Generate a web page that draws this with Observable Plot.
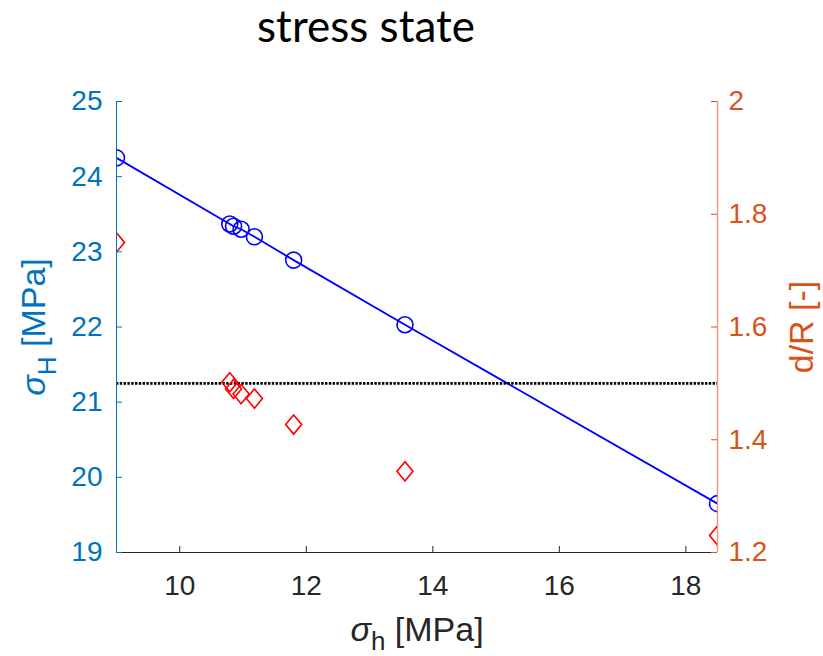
<!DOCTYPE html>
<html>
<head>
<meta charset="utf-8">
<script src="https://cdn.jsdelivr.net/npm/d3@7"></script>
<script src="https://cdn.jsdelivr.net/npm/@observablehq/plot@0.6"></script>
<style>
  html, body { margin: 0; padding: 0; background: #fff; }
  #wrap { position: relative; width: 823px; height: 656px; overflow: hidden; }
  #title { position: absolute; left: 0; top: 0; width: 732px; height: 56px; text-align: center;
           font-family: Lato, "Open Sans", sans-serif; font-size: 44px; line-height: 50px; color: #000; }
  #chart { position: absolute; left: 0; top: 56px; }
</style>
</head>
<body>
<div id="wrap">
  <div id="title">stress state</div>
  <div id="chart"></div>
</div>
<script>
// ---- data ----
const sigmaSmall = [9.0, 10.79, 10.85, 10.97, 11.18, 11.80, 13.56, 18.5];   // σh [MPa]
const sigmaLarge = [24.25, 23.37, 23.34, 23.30, 23.20, 22.89, 22.03, 19.65]; // σH [MPa]
const dOverR = [1.75, 1.502, 1.490, 1.481, 1.473, 1.427, 1.344, 1.23];      // d/R [-]
const dOverRLimit = [1.5];
const xTicks = [10, 12, 14, 16, 18];
const leftTicks = [19, 20, 21, 22, 23, 24, 25];
const rightTicks = [1.2, 1.4, 1.6, 1.8, 2];
const xDomain = [9, 18.5];
const leftDomain = [19, 25];
const rightDomain = [1.2, 2];

const BLUE_AX = "#0072BD", ORANGE_AX = "#D95319", GRAY_AX = "#262626";

// right axis values are mapped onto the left (primary) y scale
const toLeft = d3.scaleLinear().domain(rightDomain).range(leftDomain);

const pts = sigmaSmall.map((x, i) => ({x, yH: sigmaLarge[i], yR: toLeft(dOverR[i])}));

const diamond = {
  draw(context, size) {
    const r = Math.sqrt(size / Math.PI);
    const w = r, h = r * 1.2;
    context.moveTo(0, -h); context.lineTo(w, 0); context.lineTo(0, h); context.lineTo(-w, 0); context.closePath();
  }
};

const W = 823, H = 600;
const mL = 116, mR = 823 - 717, mT = 101 - 56, mB = 600 - (552 - 56);
const frameW = W - mL - mR, frameH = H - mT - mB;
const TICK = 6;
const fmt = d3.format("~g");

const chart = Plot.plot({
  width: W, height: H,
  marginLeft: mL, marginRight: mR, marginTop: mT, marginBottom: mB,
  style: {fontFamily: "'Liberation Sans', Arial, Helvetica, sans-serif", fontSize: "28px", background: "white"},
  x: {domain: xDomain},
  y: {domain: leftDomain},
  marks: [
    // data
    Plot.line(pts, {x: "x", y: "yH", stroke: "#0000FF", strokeWidth: 1.8, clip: true}),
    Plot.dot(pts, {x: "x", y: "yH", r: 8, stroke: "#0000FF", strokeWidth: 1.6, fill: "none", clip: true}),
    Plot.ruleY(dOverRLimit, {y: d => toLeft(d), stroke: "#000", strokeWidth: 2.8, strokeDasharray: "2.4,1.4"}),
    Plot.dot(pts, {x: "x", y: "yR", r: 8, symbol: diamond, stroke: "#FF0000", strokeWidth: 1.6, fill: "none", clip: true}),
    // axis lines
    Plot.ruleY([leftDomain[0]], {stroke: GRAY_AX, strokeWidth: 1}),
    Plot.ruleX([xDomain[0]], {stroke: BLUE_AX, strokeWidth: 1}),
    Plot.ruleX([xDomain[1]], {stroke: ORANGE_AX, strokeOpacity: 0.6, strokeWidth: 1.4}),
    // inward ticks
    Plot.tickX(xTicks, {x: d => d, stroke: GRAY_AX, insetTop: frameH - TICK}),
    Plot.tickY(leftTicks, {y: d => d, stroke: BLUE_AX, insetRight: frameW - TICK}),
    Plot.tickY(rightTicks, {y: d => toLeft(d), stroke: ORANGE_AX, insetLeft: frameW - TICK}),
    // tick labels
    Plot.axisX(xTicks, {anchor: "bottom", tickSize: 0, tickPadding: 23, fill: GRAY_AX, fontSize: 28, label: null, tickFormat: fmt}),
    Plot.axisY(leftTicks, {anchor: "left", tickSize: 0, tickPadding: 14, fill: BLUE_AX, fontSize: 28, label: null, tickFormat: fmt}),
    Plot.axisY(rightTicks.map(d => toLeft(d)), {anchor: "right", tickSize: 0, tickPadding: 11, fill: ORANGE_AX, fontSize: 28, label: null,
      tickFormat: d => fmt(+toLeft.invert(d).toFixed(3))}),
    // axis titles
    Plot.text(["σh [MPa]"], {frameAnchor: "bottom", dy: 88, lineAnchor: "bottom", textAnchor: "middle", fill: GRAY_AX, fontSize: 34}),
    Plot.text(["σH [MPa]"], {frameAnchor: "left", dx: -72, rotate: -90, lineAnchor: "bottom", textAnchor: "middle", fill: BLUE_AX, fontSize: 34}),
    Plot.text(["d/R [-]"], {frameAnchor: "right", dx: 95, rotate: -90, lineAnchor: "bottom", textAnchor: "middle", fill: ORANGE_AX, fontSize: 34})
  ]
});

// TeX-like sigma with subscript
function texify(svg, content, parts) {
  d3.select(svg).selectAll("text").filter(function () { return this.textContent === content; }).each(function () {
    const t = d3.select(this);
    t.text(null);
    parts.forEach(p => {
      const s = t.append("tspan").text(p.t);
      if (p.italic) s.attr("font-style", "italic");
      if (p.size) s.attr("font-size", p.size);
      if (p.dy) s.attr("dy", p.dy);
    });
  });
}
texify(chart, "σh [MPa]", [{t: "σ", italic: true}, {t: "h", size: 26, dy: 9}, {t: " [MPa]", dy: -9}]);
texify(chart, "σH [MPa]", [{t: "σ", italic: true}, {t: "H", size: 26, dy: 11}, {t: " [MPa]", dy: -11}]);

document.getElementById("chart").appendChild(chart);
</script>
</body>
</html>
